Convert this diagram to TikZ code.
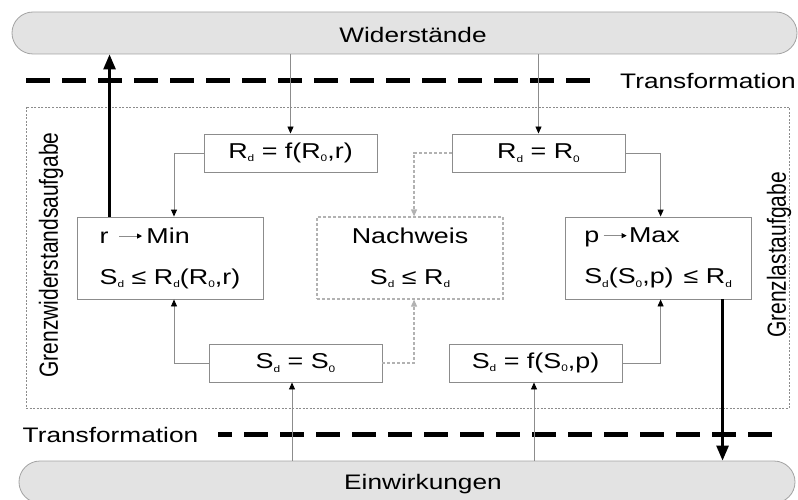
\documentclass[tikz,border=0pt]{standalone}
\usepackage{fontspec}
\setmainfont{Liberation Sans}[FakeStretch=1.25]
\newfontfamily\uprightfont{Liberation Sans}
\usepackage{tikz}
\usetikzlibrary{arrows.meta,positioning,calc}
\definecolor{frame}{HTML}{8C8C8C}
\definecolor{pale}{HTML}{B2B2B2}
\definecolor{barfill}{HTML}{E3E3E3}
\definecolor{barline}{HTML}{A3A3A3}
\newcommand\sbs[1]{\raisebox{-0.3ex}{\fontsize{9.5}{9.5}\selectfont #1}}
\newcommand\marr{\tikz[baseline=-7pt]\draw[frame,line width=0.8pt,-{Triangle[black,length=5pt,width=5pt]}] (0pt,0pt) -- (23pt,0pt);}

\begin{document}
\begin{tikzpicture}[x=1pt,y=-1pt,
  bx/.style={draw=frame,fill=white,line width=0.9pt,minimum width=173pt,minimum height=38pt,inner sep=0pt,font=\fontsize{21.5}{25}\selectfont},
  big/.style={bx,minimum width=186pt,minimum height=82pt,align=left,font=\fontsize{21.5}{41}\selectfont},
  nw/.style={big,draw=pale,line width=1.2pt,dash pattern=on 3pt off 2pt,align=center},
  bar/.style={draw=barline,fill=barfill,line width=0.8pt,rounded corners=21pt,minimum height=42pt,inner sep=0pt},
  ar/.style={frame,line width=0.9pt,-{Triangle[black,length=7pt,width=6pt]}},
  dar/.style={pale,line width=1.2pt,dash pattern=on 3pt off 2pt,-{Triangle[pale,length=7pt,width=6pt]}},
  thk/.style={black,line width=2.6pt,-{Triangle[length=15pt,width=12pt]}},
  trf/.style={black,line width=5pt,dash pattern=on 24pt off 12pt},
  lb/.style={font=\fontsize{21}{25}\selectfont,inner sep=0pt}]
  \useasboundingbox (0,0) rectangle (798,500);
  % Widerstaende / Einwirkungen
  \node[bar,minimum width=785pt] (wid) at (404.5,33) {};
  \node[lb] (widt) at (413,34.5) {Widerstände};
  \node[bar,minimum width=776pt] (einw) at (407,482) {};
  \node[lb] (einwt) at (423,484.5) {Einwirkungen};
  % Transformation
  \node[lb] (tro) at (708,81) {Transformation};
  \node[lb] (tru) at (110.5,434.5) {Transformation};
  \draw[trf] (26,81) -- (592,81);
  \draw[trf,dash phase=10pt] (218,434) -- (783,434);
  % Rahmen
  \draw[frame,line width=0.8pt,dash pattern=on 2pt off 1.5pt] (26,107) rectangle (789,408);
  \node[lb,rotate=90] (gwa) at (51,255) {\uprightfont\scalebox{1}[1.25]{Grenzwiderstandsaufgabe}};
  \node[lb,rotate=90] (gla) at (779,255) {\uprightfont\scalebox{1}[1.25]{Grenzlastaufgabe}};
  % Kaesten
  \node[bx] (rf) at (290.5,153) {R\sbs{d} = f(R\sbs{0},r)};
  \node[bx] (rz) at (538.5,153) {R\sbs{d} = R\sbs{0}};
  \node[big] (minb) at (170,258) {r\hspace{10pt}\marr\hspace{4pt}Min\\S\sbs{d} ≤ R\sbs{d}(R\sbs{0},r)};
  \node[nw,right=53pt of minb] (nachw) {Nachweis\\S\sbs{d} ≤ R\sbs{d}};
  \node[big,right=61pt of nachw] (maxb) {p\hspace{4pt}\marr\hspace{2pt}Max\\S\sbs{d}(S\sbs{0},p)\hspace{10pt}≤ R\sbs{d}};
  \node[bx] (sz) at (295.5,363) {S\sbs{d} = S\sbs{0}};
  \node[bx] (sf) at (535.5,363) {S\sbs{d} = f(S\sbs{0},p)};
  % Verbindungen
  \draw[ar] (rf.north |- wid.south) -- (rf.north);
  \draw[ar] (rz.north |- wid.south) -- (rz.north);
  \draw[ar] (rf.west) -| ([xshift=4pt]minb.north);
  \draw[dar] (rz.west) -| ([xshift=4pt]nachw.north);
  \draw[ar] (rz.east) -| ([xshift=2.5pt]maxb.north);
  \draw[ar] (sz.west) -| ([xshift=4pt]minb.south);
  \draw[dar] (sz.east) -| ([xshift=4pt]nachw.south);
  \draw[ar] (sf.east) -| ([xshift=2.5pt]maxb.south);
  \draw[ar] ([xshift=-3.5pt]sz.south |- einw.north) -- ([xshift=-3.5pt]sz.south);
  \draw[ar] ([xshift=-1.5pt]sf.south |- einw.north) -- ([xshift=-1.5pt]sf.south);
  \draw[thk] ([xshift=33pt]minb.north west) -- ([xshift=33pt]minb.north west |- wid.south);
  \draw[thk] ([xshift=-29pt]maxb.south east) -- ([xshift=-29pt]maxb.south east |- einw.north);
\end{tikzpicture}
\end{document}
